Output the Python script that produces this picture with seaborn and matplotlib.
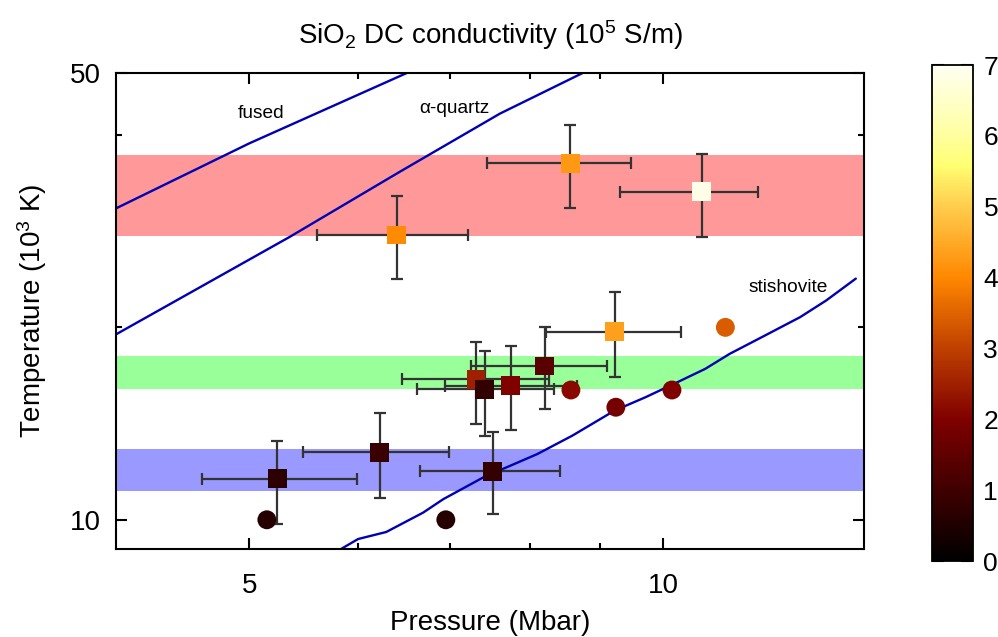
import numpy as np
import pandas as pd
import matplotlib
matplotlib.use("Agg")
import matplotlib.pyplot as plt
import seaborn as sns
from matplotlib.colors import LinearSegmentedColormap, Normalize
from matplotlib.cm import ScalarMappable
from matplotlib.ticker import FixedLocator, NullFormatter, FixedFormatter

# --- datos ---
# cuadrados (con barras de error)
sq_p = [6.40, 8.56, 10.67, 9.22, 8.20, 7.31, 7.42, 7.75, 7.52, 6.22, 5.24]
sq_p_lo = [5.60, 7.45, 9.31, 8.22, 7.25, 6.46, 6.62, 6.94, 6.66, 5.47, 4.62]
sq_p_hi = [7.21, 9.48, 11.73, 10.30, 9.10, 8.26, 8.33, 8.66, 8.41, 6.99, 5.99]
sq_t = [27.9, 36.1, 32.6, 19.7, 17.4, 16.6, 16.0, 16.2, 11.9, 12.75, 11.6]
sq_t_lo = [23.8, 30.7, 27.7, 16.7, 14.9, 14.1, 13.5, 13.8, 10.2, 10.8, 9.85]
sq_t_hi = [32.1, 41.5, 37.4, 22.7, 20.0, 19.0, 18.4, 18.7, 13.7, 14.7, 13.3]
sq_sigma = [4.05, 4.25, 6.85, 4.35, 1.4, 2.5, 0.8, 2.0, 0.8, 0.9, 0.7]

# circulos (sin barras de error)
ci_p = [5.15, 6.95, 8.57, 9.24, 10.15, 11.10]
ci_t = [10.0, 10.0, 15.96, 15.0, 15.96, 20.0]
ci_sigma = [0.6, 0.6, 2.15, 1.85, 2.0, 3.4]

# hugoniots
fused_p = [4.0, 5.0, 6.51, 7.0]
fused_t = [30.7, 38.8, 50.0, 53.5]
quartz_p = [4.0, 5.35, 6.43, 7.61, 8.74, 9.2]
quartz_t = [19.5, 27.7, 35.0, 43.2, 50.0, 53.0]
stish_p = [5.6, 5.81, 6.00, 6.29, 6.69, 6.92, 7.40, 8.10, 8.59, 9.22, 9.71,
           10.24, 10.73, 11.18, 11.86, 12.58, 13.14, 13.81]
stish_t = [8.55, 8.96, 9.33, 9.57, 10.26, 10.77, 11.65, 12.67, 13.54, 14.82, 15.55,
           16.41, 17.22, 18.18, 19.42, 20.75, 22.03, 23.84]

# bandas horizontales
band_lo = [27.8, 16.0, 11.1]
band_hi = [37.2, 18.07, 12.9]
band_colors = ["#ff9999", "#99ff99", "#9999ff"]

cbar_ticks = [0, 1, 2, 3, 4, 5, 6, 7]

# --- estilo ---
sns.set_theme(style="ticks")
plt.rcParams['font.family'] = ['Liberation Sans', 'DejaVu Sans']
plt.rcParams['mathtext.fontset'] = 'custom'
plt.rcParams['mathtext.rm'] = 'Liberation Sans'
plt.rcParams['mathtext.it'] = 'Liberation Sans:italic'
plt.rcParams['text.color'] = 'black'
plt.rcParams['axes.labelcolor'] = 'black'
plt.rcParams['axes.edgecolor'] = 'black'
plt.rcParams['xtick.color'] = 'black'
plt.rcParams['ytick.color'] = 'black'

# paleta tipo "hot" (negro -> rojo -> naranja -> amarillo -> blanco)
nodos = [
    (0 / 7, (0.0, 0.0, 0.0)),
    (1 / 7, (0.25, 0.0, 0.0)),
    (2 / 7, (0.5, 0.0, 0.0)),
    (3 / 7, (0.75, 0.25, 0.0)),
    (4 / 7, (1.0, 0.53, 0.0)),
    (5 / 7, (1.0, 0.80, 0.30)),
    (5.6 / 7, (1.0, 1.0, 0.45)),
    (6 / 7, (1.0, 1.0, 0.62)),
    (7 / 7, (1.0, 1.0, 0.95)),
]
cmap = LinearSegmentedColormap.from_list("hot_sio2", nodos)
norm = Normalize(0, 7)

df_sq = pd.DataFrame({"p": sq_p, "t": sq_t, "sigma": sq_sigma})
df_ci = pd.DataFrame({"p": ci_p, "t": ci_t, "sigma": ci_sigma})

fig = plt.figure(figsize=(9.98, 6.37), dpi=100)
ax = fig.add_axes([0.1162, 0.1381, 0.7495, 0.7473])

# bandas
for lo, hi, c in zip(band_lo, band_hi, band_colors):
    ax.axhspan(lo, hi, color=c, lw=0, zorder=0)

# curvas
for px, ty in [(fused_p, fused_t), (quartz_p, quartz_t), (stish_p, stish_t)]:
    sns.lineplot(x=px, y=ty, ax=ax, color="#0000b4", lw=1.7, estimator=None,
                 sort=False, zorder=2)

# barras de error
p_arr = np.array(sq_p)
t_arr = np.array(sq_t)
xerr = [p_arr - np.array(sq_p_lo), np.array(sq_p_hi) - p_arr]
yerr = [t_arr - np.array(sq_t_lo), np.array(sq_t_hi) - t_arr]
ax.errorbar(sq_p, sq_t, xerr=xerr, yerr=yerr, fmt='none', ecolor="#333333",
            elinewidth=1.6, capsize=4, capthick=1.6, zorder=3)

sns.scatterplot(data=df_sq, x="p", y="t", hue="sigma", palette=cmap, hue_norm=norm,
                marker="s", s=185, linewidth=0, legend=False, ax=ax, zorder=4)
sns.scatterplot(data=df_ci, x="p", y="t", hue="sigma", palette=cmap, hue_norm=norm,
                marker="o", s=185, linewidth=0, legend=False, ax=ax, zorder=4)

# etiquetas de curvas
ax.text(5.10, 43.2, "fused", fontsize=13.8, ha="center", va="center")
ax.text(7.05, 44.0, "α-quartz", fontsize=13.8, ha="center", va="center")
ax.text(12.34, 23.1, "stishovite", fontsize=13.8, ha="center", va="center")

# ejes
ax.set_xscale("log")
ax.set_yscale("log")
ax.set_xlim(4, 14)
ax.set_ylim(9, 50)
ax.xaxis.set_major_locator(FixedLocator([5, 10]))
ax.xaxis.set_major_formatter(FixedFormatter(["5", "10"]))
ax.xaxis.set_minor_locator(FixedLocator([6, 7, 8, 9]))
ax.xaxis.set_minor_formatter(NullFormatter())
ax.yaxis.set_major_locator(FixedLocator([10, 50]))
ax.yaxis.set_major_formatter(FixedFormatter(["10", "50"]))
ax.yaxis.set_minor_locator(FixedLocator([20, 40]))
ax.yaxis.set_minor_formatter(NullFormatter())
ax.tick_params(which="both", direction="in", top=True, right=True, width=1.5)
ax.tick_params(which="major", length=8, labelsize=20)
ax.tick_params(axis="x", which="major", pad=17)
ax.tick_params(axis="y", which="major", pad=11)
ax.tick_params(which="minor", length=4.5)
for s in ax.spines.values():
    s.set_linewidth(1.5)

ax.set_xlabel("Pressure (Mbar)", fontsize=20)
ax.set_ylabel("Temperature (10$^{3}$ K)", fontsize=20)
ax.xaxis.set_label_coords(0.5, -0.128)
ax.yaxis.set_label_coords(-0.090, 0.5)
ax.set_title("SiO$_{\\mathrm{2}}$ DC conductivity (10$^{5}$ S/m)", fontsize=20, pad=21)

# barra de color
cax = fig.add_axes([0.9339, 0.1193, 0.0411, 0.7786])
cb = fig.colorbar(ScalarMappable(norm=norm, cmap=cmap), cax=cax)
cb.set_ticks(cbar_ticks)
cb.outline.set_linewidth(1.3)
cax.yaxis.set_ticks_position("both")
cax.tick_params(axis="y", direction="in", length=8.4, width=1.5, labelsize=19,
                labelright=True, labelleft=False, pad=7.5)

fig.savefig("out.png", dpi=100)
plt.close(fig)
